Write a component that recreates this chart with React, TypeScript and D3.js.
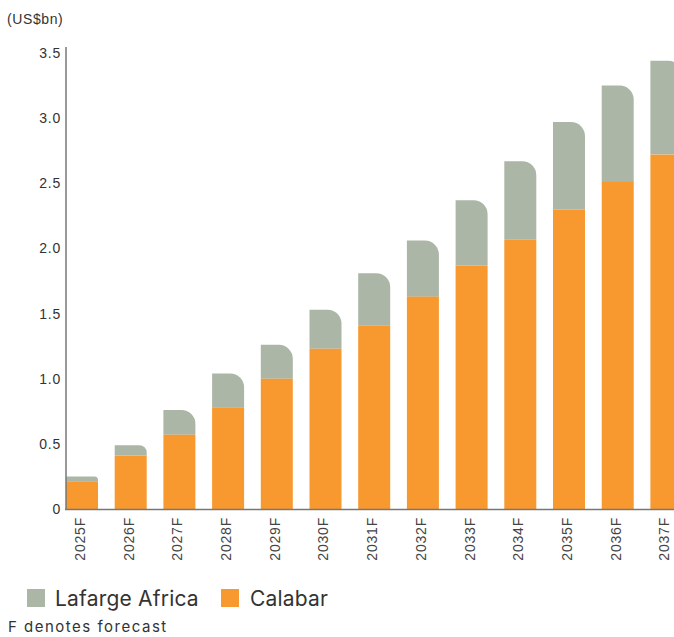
import React from 'react';
import * as d3 from 'd3';

const years = ['2025F', '2026F', '2027F', '2028F', '2029F', '2030F', '2031F', '2032F', '2033F', '2034F', '2035F', '2036F', '2037F'];
const calabar = [0.21, 0.41, 0.57, 0.78, 1.0, 1.23, 1.41, 1.63, 1.87, 2.07, 2.3, 2.51, 2.72];
const lafarge = [0.04, 0.08, 0.19, 0.26, 0.26, 0.3, 0.4, 0.43, 0.5, 0.6, 0.67, 0.74, 0.72];
const yTicks = [0, 0.5, 1.0, 1.5, 2.0, 2.5, 3.0, 3.5];

const W = 674;
const H = 637;
const GREY = '#abb6a6';
const ORANGE = '#f7992f';
const AXIS_FONT = 'Liberation Sans, Arial, sans-serif';

// bar with only the top-right corner rounded
const topRightRounded = (x: number, y: number, w: number, h: number, r: number) => {
  const rr = Math.min(r, h, w);
  return `M${x},${y + h}V${y}H${x + w - rr}A${rr},${rr} 0 0 1 ${x + w},${y + rr}V${y + h}Z`;
};

export default function App() {
  const x = d3.scaleBand<string>().domain(years).range([66, 682.4]).paddingInner(0.343).paddingOuter(0);
  const y = d3.scaleLinear().domain([0, 3.5]).range([509, 53]);
  const bw = x.bandwidth();

  return (
    <>
      <style>{'body{margin:0}'}</style>
      <svg width={W} height={H} style={{ display: 'block', background: '#fff' }}>
        <text x={7} y={24} fontFamily={AXIS_FONT} fontSize={14} letterSpacing={0.6} fill="#333">
          (US$bn)
        </text>

        {years.map((yr, i) => {
          const x0 = x(yr) as number;
          const yc = y(calabar[i]);
          const yt = y(calabar[i] + lafarge[i]);
          const h = yc - yt;
          return (
            <g key={yr}>
              <path d={topRightRounded(x0, yt, bw, h, Math.min(14, h * 0.7))} fill={GREY} />
              <rect x={x0} y={yc} width={bw} height={y(0) - yc} fill={ORANGE} />
              <text
                transform={`translate(${x0 + bw / 2 + 3},517) rotate(-90)`}
                textAnchor="end"
                fontFamily={AXIS_FONT}
                fontSize={14}
                letterSpacing={0.8}
                fill="#444"
              >
                {yr}
              </text>
            </g>
          );
        })}

        <line x1={66} x2={66} y1={47} y2={509.5} stroke="#777" strokeWidth={1.5} />
        <line x1={65} x2={W} y1={509.5} y2={509.5} stroke="#777" strokeWidth={1.5} />

        {yTicks.map((t) => (
          <text
            key={t}
            x={61}
            y={y(t) + 5}
            textAnchor="end"
            fontFamily={AXIS_FONT}
            fontSize={14}
            letterSpacing={0.8}
            fill="#333"
          >
            {t === 0 ? '0' : t.toFixed(1)}
          </text>
        ))}

        <rect x={27} y={589} width={18} height={18} fill={GREY} />
        <text x={55} y={606} fontFamily="Inter, sans-serif" fontSize={21} letterSpacing={0.2} fill="#333">
          Lafarge Africa
        </text>
        <rect x={221} y={589} width={18} height={18} fill={ORANGE} />
        <text x={250} y={606} fontFamily="Inter, sans-serif" fontSize={21} letterSpacing={0.2} fill="#333">
          Calabar
        </text>
        <text x={8} y={632} fontFamily="Inter, sans-serif" fontSize={15} letterSpacing={1.5} fill="#333">
          F denotes forecast
        </text>
      </svg>
    </>
  );
}
